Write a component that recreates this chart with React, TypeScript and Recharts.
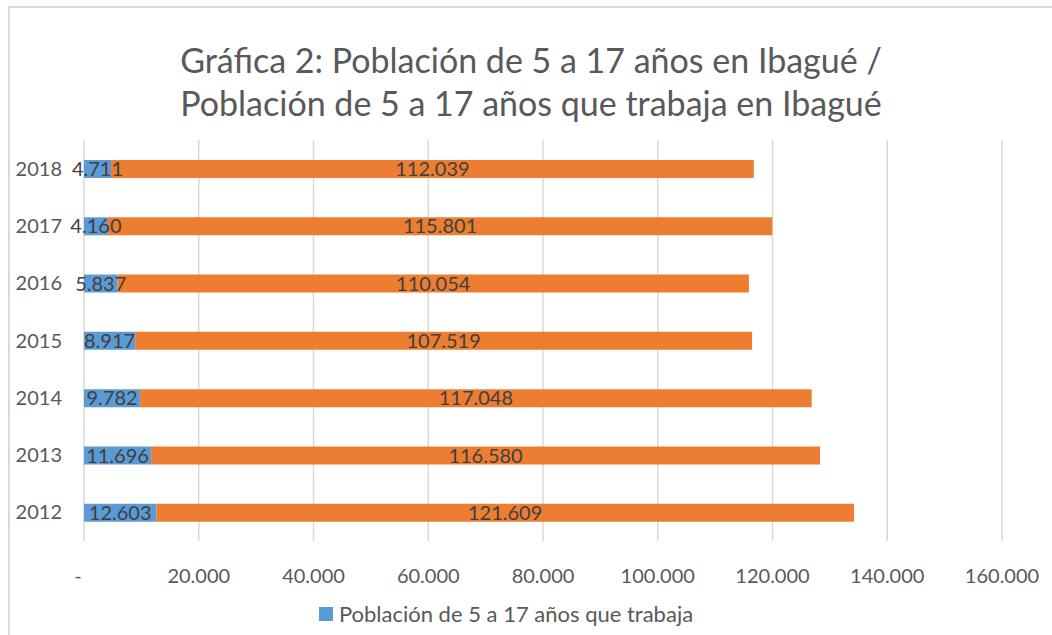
import React from "react";
import { BarChart, Bar, XAxis, YAxis, CartesianGrid, LabelList, Legend } from "recharts";

const years = ["2012", "2013", "2014", "2015", "2016", "2017", "2018"];
const working = [12603, 11696, 9782, 8917, 5837, 4160, 4711];
const notWorking = [121609, 116580, 117048, 107519, 110054, 115801, 112039];
const xTicks = [0, 20000, 40000, 60000, 80000, 100000, 120000, 140000, 160000];

const data = years.map((y, i) => ({ year: y, working: working[i], rest: notWorking[i] }));

const FONT = "Lato, 'Open Sans', sans-serif";
const GRAY = "#595959";

const fmt = (v: number) => {
  if (v === 0) return "-";
  return String(Math.round(v)).replace(/\B(?=(\d{3})+(?!\d))/g, ".");
};

const XTick = (props: any) => {
  const { x, y, payload } = props;
  const v = payload.value;
  return (
    <text x={v === 0 ? x - 6 : x} y={y} dy="0.71em" textAnchor="middle" fill={GRAY} fontSize={20} fontFamily={FONT}>
      {fmt(v)}
    </text>
  );
};

const LegendContent = () => (
  <div style={{ display: "flex", justifyContent: "center", alignItems: "center", fontFamily: FONT, fontSize: 22, color: GRAY }}>
    <span style={{ display: "inline-block", width: 14, height: 14, background: "#5b9bd5", marginRight: 6 }} />
    <span>Población de 5 a 17 años que trabaja</span>
  </div>
);

export default function App() {
  return (
    <div style={{ position: "absolute", left: 0, top: 0, width: 1052, height: 635, background: "#fff", overflow: "hidden" }}>
      <div style={{ position: "absolute", left: 8, top: 6, width: 1100, height: 700, borderLeft: "2px solid #d9d9d9", borderTop: "2px solid #d9d9d9", boxSizing: "border-box" }} />
      <div style={{ position: "absolute", left: 0, top: 38, width: 1062, textAlign: "center", fontFamily: FONT, fontSize: 34, lineHeight: "43px", color: GRAY }}>
        Gráfica 2: Población de 5 a 17 años en Ibagué /<br />Población de 5 a 17 años que trabaja en Ibagué
      </div>
      <div style={{ position: "absolute", left: 0, top: 0 }}>
        <BarChart
          width={1052}
          height={635}
          data={data}
          layout="vertical"
          margin={{ top: 140, right: 50, bottom: 28, left: 0 }}
          barCategoryGap={0}
        >
          <CartesianGrid horizontal={false} vertical={true} stroke="#d9d9d9" strokeWidth={1.5} />
          <XAxis
            type="number"
            domain={[0, 160000]}
            ticks={xTicks}
            axisLine={false}
            tickLine={false}
            tickSize={0}
            tickMargin={28}
            height={40}
            tick={<XTick />}
            interval={0}
          />
          <YAxis
            type="category"
            dataKey="year"
            reversed
            width={84}
            axisLine={false}
            tickLine={false}
            tickSize={0}
            tickMargin={22}
            tick={{ fill: GRAY, fontSize: 20, fontFamily: FONT }}
          />
          <Legend
            verticalAlign="bottom"
            content={<LegendContent />}
            wrapperStyle={{ position: "absolute", top: 600, left: 0, width: 1012, height: 26 }}
          />
          <Bar dataKey="working" stackId="a" fill="#5b9bd5" barSize={18} isAnimationActive={false} name="Población de 5 a 17 años que trabaja">
            <LabelList dataKey="working" position="center" formatter={(v: any) => fmt(Number(v))} fill="#404040" fontSize={20} fontFamily={FONT} />
          </Bar>
          <Bar dataKey="rest" stackId="a" fill="#ed7d31" barSize={18} isAnimationActive={false} name="Población de 5 a 17 años">
            <LabelList dataKey="rest" position="center" formatter={(v: any) => fmt(Number(v))} fill="#404040" fontSize={20} fontFamily={FONT} />
          </Bar>
        </BarChart>
      </div>
    </div>
  );
}
